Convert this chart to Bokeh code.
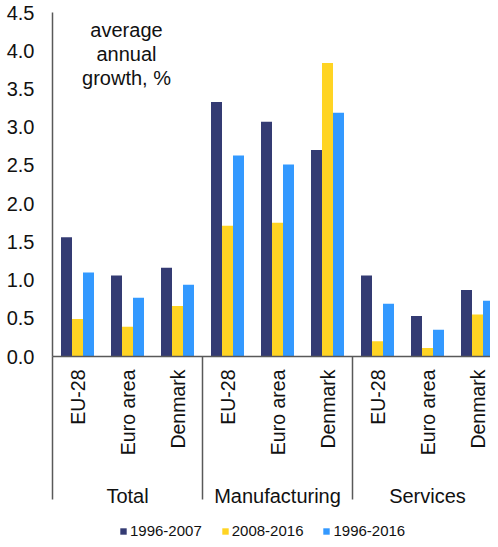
import numpy as np
from bokeh.plotting import figure
from bokeh.layouts import column
from bokeh.models import Range1d, FixedTicker, LinearAxis, Legend, LegendItem, ColumnDataSource
from bokeh.core.properties import value
from bokeh.embed import file_html
from bokeh.resources import INLINE

# ---- data ----
sectors = ["Total", "Manufacturing", "Services"]
regions = ["EU-28", "Euro area", "Denmark"]
series_names = ["1996-2007", "2008-2016", "1996-2016"]
v_1996_2007 = [1.56, 1.06, 1.16, 3.33, 3.07, 2.70, 1.06, 0.53, 0.87]
v_2008_2016 = [0.49, 0.39, 0.66, 1.71, 1.75, 3.84, 0.20, 0.11, 0.55]
v_1996_2016 = [1.10, 0.77, 0.94, 2.63, 2.51, 3.19, 0.69, 0.35, 0.73]
y_ticks = [0.0, 0.5, 1.0, 1.5, 2.0, 2.5, 3.0, 3.5, 4.0, 4.5]
note = "average\nannual\ngrowth, %"

colors = ["#343B73", "#FFD423", "#3399FF"]
FONT = "Liberation Sans"

n_cat = len(sectors) * len(regions)
cat_x = [i + 0.5 for i in range(n_cat)]
cat_labels = [r for s in sectors for r in regions]
group_x = [len(regions) * g + len(regions) / 2 for g in range(len(sectors))]
sep_x = [len(regions) * g for g in range(len(sectors) + 1)]

p = figure(width=490, height=513, output_backend="svg", toolbar_location=None,
           x_range=Range1d(0, 8.76), y_range=Range1d(0, 4.5),
           min_border_left=52, min_border_right=0, min_border_top=12, min_border_bottom=157)
p.outline_line_color = None
p.grid.visible = False
p.background_fill_color = "white"
p.border_fill_color = "white"

bw = 0.22
offsets = [-bw, 0.0, bw]
vals = [v_1996_2007, v_2008_2016, v_1996_2016]
for k in range(3):
    src = ColumnDataSource(dict(x=[c + offsets[k] for c in cat_x], top=vals[k]))
    p.vbar(x="x", top="top", width=bw, bottom=0, source=src,
           fill_color=colors[k], line_color=None)

p.text(x=[1.48], y=[4.42], text=[note], text_font=value(FONT), text_font_size="20px",
       text_align="center", text_baseline="top", text_line_height=1.1, text_color="#111111")

# y axis
ya = p.yaxis[0]
ya.ticker = FixedTicker(ticks=y_ticks)
ya.major_label_overrides = {t: f"{t:.1f}" for t in y_ticks}
ya.major_tick_out = 0
ya.major_tick_in = 0
ya.minor_tick_line_color = None
ya.major_label_standoff = 18
ya.major_label_text_font = FONT
ya.major_label_text_font_size = "20px"
ya.major_label_text_color = "#111111"
ya.axis_line_color = "#595959"
ya.axis_line_width = 1.5

# x axis: categories (minor ticks draw the group separators)
xa = p.xaxis[0]
xa.ticker = FixedTicker(ticks=cat_x, minor_ticks=sep_x)
xa.major_label_overrides = {x: l for x, l in zip(cat_x, cat_labels)}
xa.major_label_orientation = np.pi / 2
xa.major_tick_out = 0
xa.major_tick_in = 0
xa.minor_tick_in = 0
xa.minor_tick_out = 143
xa.minor_tick_line_color = "#595959"
xa.minor_tick_line_width = 1.5
xa.major_label_standoff = 13 - 143
xa.major_label_text_font = FONT
xa.major_label_text_font_size = "19.5px"
xa.major_label_text_color = "#111111"
xa.axis_line_color = "#595959"
xa.axis_line_width = 1.5

# x axis: groups
ga = LinearAxis(ticker=FixedTicker(ticks=group_x, minor_ticks=[]),
                major_label_overrides={x: s for x, s in zip(group_x, sectors)},
                axis_line_color=None, major_tick_line_color=None, minor_tick_line_color=None,
                major_tick_out=0, major_tick_in=0, minor_tick_out=0, minor_tick_in=0,
                major_label_standoff=26, major_label_text_font=FONT,
                major_label_text_font_size="20px", major_label_text_color="#111111")
p.add_layout(ga, "below")

# legend strip (swatch renderers sit outside the visible range)
lp = figure(width=490, height=26, output_backend="svg", toolbar_location=None,
            x_range=Range1d(0, 1), y_range=Range1d(0, 1),
            x_axis_type=None, y_axis_type=None,
            min_border_left=52, min_border_right=0, min_border_top=0, min_border_bottom=0)
lp.outline_line_color = None
lp.grid.visible = False
lp.border_fill_color = "white"
lp.background_fill_color = "white"
leg_r = []
for k in range(3):
    leg_r.append(lp.vbar(x=[5], top=[1], bottom=0, width=0.1,
                         fill_color=colors[k], line_color=None))

legend = Legend(items=[LegendItem(label=n, renderers=[r]) for n, r in zip(series_names, leg_r)],
                orientation="horizontal", location=(67, 0), glyph_width=8, glyph_height=8,
                label_standoff=3, spacing=19, padding=0, margin=0, border_line_color=None,
                background_fill_alpha=0, label_text_font=FONT, label_text_font_size="15px",
                label_text_font_style="normal", label_text_color="#111111", label_height=14)
lp.add_layout(legend, "center")

layout = column(p, lp, spacing=0)
open("out.html", "w").write(file_html(layout, INLINE))
